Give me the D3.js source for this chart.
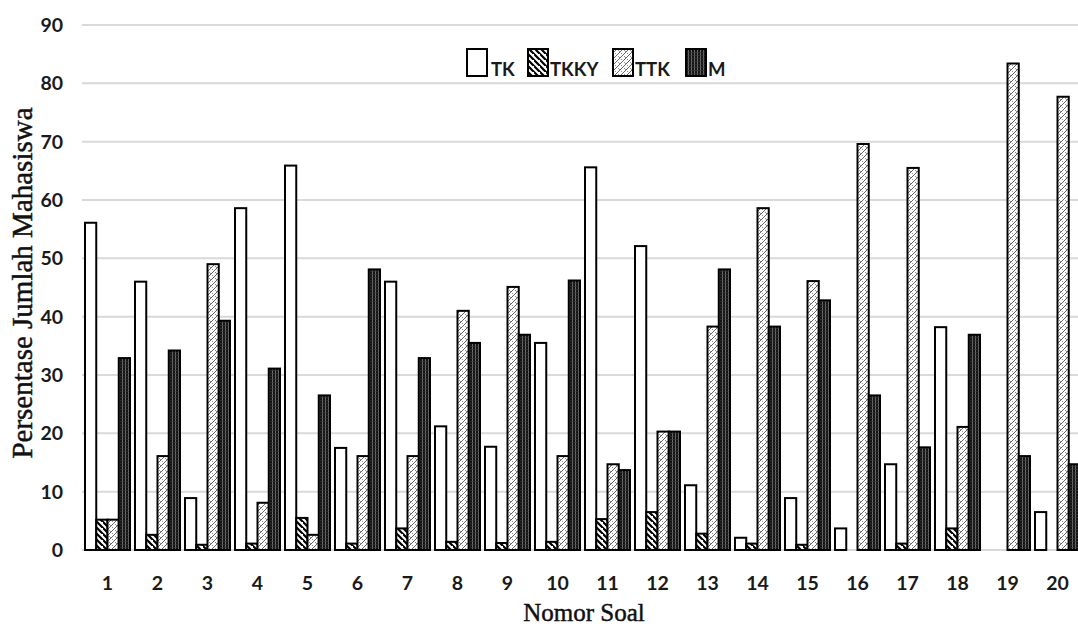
<!DOCTYPE html>
<html><head><meta charset="utf-8">
<script src="https://cdn.jsdelivr.net/npm/d3@7"></script>
<style>body{margin:0;background:#fff}svg{display:block}</style>
</head><body>
<svg id="c" width="1078" height="630"></svg>
<script>
const categories = ["1","2","3","4","5","6","7","8","9","10","11","12","13","14","15","16","17","18","19","20"];
const seriesNames = ["TK","TKKY","TTK","M"];
const TK   = [56.1,46.0,8.9,58.6,65.9,17.5,46.0,21.2,17.7,35.5,65.6,52.1,11.1,2.1,8.9,3.7,14.7,38.2,0,6.5];
const TKKY = [5.2,2.6,0.9,1.1,5.5,1.1,3.7,1.4,1.2,1.4,5.3,6.5,2.8,1.1,0.9,0,1.1,3.7,0,0];
const TTK  = [5.2,16.1,49.0,8.1,2.6,16.1,16.1,41.0,45.1,16.1,14.7,20.3,38.3,58.6,46.1,69.6,65.5,21.1,83.4,77.7];
const M    = [32.9,34.2,39.3,31.1,26.5,48.1,32.9,35.5,36.9,46.2,13.7,20.3,48.1,38.3,42.8,26.5,17.6,36.9,16.1,14.7];
const yTicks = [0,10,20,30,40,50,60,70,80,90];
const seriesValues = [TK, TKKY, TTK, M];

const svg = d3.select("#c");
const defs = svg.append("defs");

// TKKY: black "\" stripes
const p1 = defs.append("pattern").attr("id","pTKKY").attr("patternUnits","userSpaceOnUse")
  .attr("width",6).attr("height",6);
p1.append("rect").attr("width",6).attr("height",6).attr("fill","#fff");
p1.append("path").attr("d","M-1,-1 L7,7 M-4,2 L2,8 M4,-4 L10,2").attr("stroke","#000").attr("stroke-width",2.2);

// TTK: light zigzag hatch
const p2 = defs.append("pattern").attr("id","pTTK").attr("patternUnits","userSpaceOnUse")
  .attr("width",6).attr("height",6);
p2.append("rect").attr("width",6).attr("height",6).attr("fill","#fff");
p2.append("path").attr("d","M0,6 L6,0 M-3,3 L3,-3 M3,9 L9,3").attr("stroke","#555").attr("stroke-width",0.9);
p2.append("path").attr("d","M0,2 L2,4 M3,5 L5,7").attr("stroke","#777").attr("stroke-width",0.8);

// M: dark vertical fine lines
const p3 = defs.append("pattern").attr("id","pM").attr("patternUnits","userSpaceOnUse")
  .attr("width",3).attr("height",3);
p3.append("rect").attr("width",3).attr("height",3).attr("fill","#141414");
p3.append("rect").attr("x",1).attr("width",1).attr("height",3).attr("fill","#6a6a6a");
p3.append("rect").attr("y",1).attr("width",3).attr("height",0.6).attr("fill","#3a3a3a");

const fills = {TK:"#fff", TKKY:"url(#pTKKY)", TTK:"url(#pTTK)", M:"url(#pM)"};

const x0 = d3.scaleBand().domain(categories).range([82.5,1082.5]).paddingInner(0.1).paddingOuter(0.05);
const x1 = d3.scaleBand().domain(seriesNames).range([0,x0.bandwidth()]);
const y = d3.scaleLinear().domain([0,90]).range([550,25]);

// gridlines
svg.append("g").selectAll("line").data(yTicks).join("line")
  .attr("x1",82).attr("x2",1078)
  .attr("y1",d=>y(d)).attr("y2",d=>y(d))
  .attr("stroke","#d9d9d9").attr("stroke-width",2);

// y labels
svg.append("g").selectAll("text").data(yTicks).join("text")
  .attr("x",63).attr("y",d=>y(d)).attr("dy","0.36em")
  .attr("text-anchor","end")
  .attr("font-family","Lato, sans-serif").attr("font-weight","bold").attr("font-size",19.5)
  .attr("fill","#1a1a1a").text(d=>d);

// bars
const plot = svg.append("g");
categories.forEach((c,i)=>{
  const g = plot.append("g").attr("transform",`translate(${x0(c)},0)`);
  const rows = seriesNames.map((s,k)=>({s, v: seriesValues[k][i]})).filter(d=>d.v>0);
  g.selectAll("rect").data(rows).join("rect")
    .attr("x",d=>x1(d.s)).attr("width",x1.bandwidth())
    .attr("y",d=>y(d.v)).attr("height",d=>y(0)-y(d.v))
    .attr("fill",d=>fills[d.s]).attr("stroke","#000").attr("stroke-width",2);
});

// x labels
svg.append("g").selectAll("text").data(categories).join("text")
  .attr("x",d=>x0(d)+x0.bandwidth()/2).attr("y",583).attr("dy","0.36em")
  .attr("text-anchor","middle")
  .attr("font-family","Lato, sans-serif").attr("font-weight","bold").attr("font-size",19.5)
  .attr("fill","#1a1a1a").text(d=>d);

// axis titles
svg.append("text").attr("x",584).attr("y",621).attr("text-anchor","middle")
  .attr("font-family","'Liberation Serif', 'Times New Roman', serif").attr("font-size",25)
  .attr("fill","#111").attr("stroke","#111").attr("stroke-width",0.45).text("Nomor Soal");
svg.append("text").attr("transform","translate(32,283) rotate(-90)").attr("text-anchor","middle")
  .attr("font-family","'Liberation Serif', 'Times New Roman', serif").attr("font-size",29)
  .attr("fill","#111").attr("stroke","#111").attr("stroke-width",0.45).text("Persentase Jumlah Mahasiswa");

// legend
const legendPos = [{s:"TK",bx:467,tx:491},{s:"TKKY",bx:528,tx:550},{s:"TTK",bx:613,tx:635},{s:"M",bx:686,tx:708}];
const lg = svg.append("g");
lg.selectAll("rect").data(legendPos).join("rect")
  .attr("x",d=>d.bx).attr("y",49).attr("width",20).attr("height",27)
  .attr("fill",d=>fills[d.s]).attr("stroke","#000").attr("stroke-width",2);
lg.selectAll("text").data(legendPos).join("text")
  .attr("x",d=>d.tx).attr("y",76)
  .attr("font-family","Lato, sans-serif").attr("font-weight","bold").attr("font-size",18.5)
  .attr("fill","#1a1a1a").text(d=>d.s);
</script>
</body></html>
